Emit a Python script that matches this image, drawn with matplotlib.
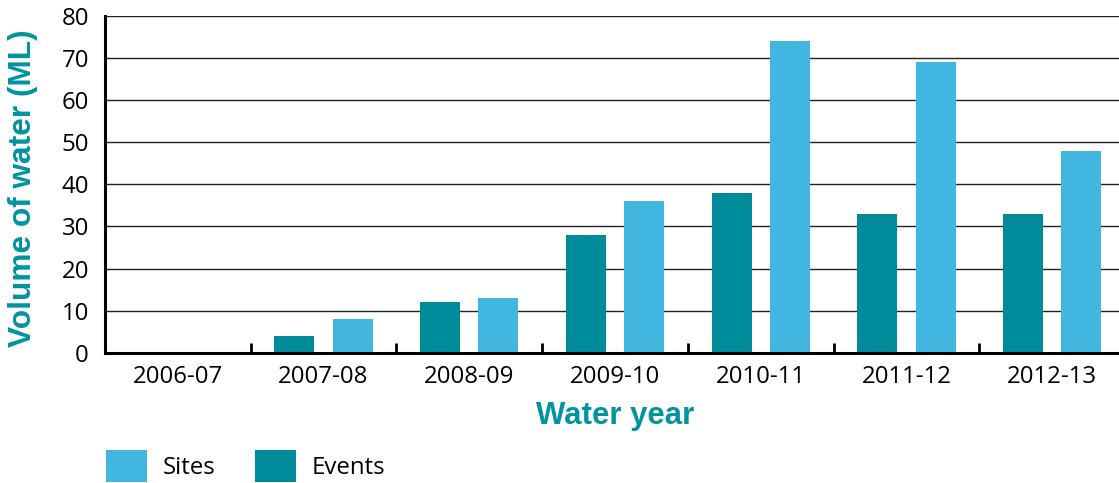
import numpy as np
import matplotlib.pyplot as plt
from matplotlib.patches import Patch

# Water use by year
years = ["2006-07", "2007-08", "2008-09", "2009-10", "2010-11", "2011-12", "2012-13"]
events = [0, 4, 12, 28, 38, 33, 33]
sites = [0, 8, 13, 36, 74, 69, 48]

sites_color = "#41B6E0"
events_color = "#008B9A"
label_color = "#0093A0"

plt.rcParams["font.family"] = ["Open Sans", "DejaVu Sans"]

fig = plt.figure(figsize=(11.19, 4.83), dpi=100)
ax = fig.add_axes([0.0938, 0.2692, 0.9116, 0.6983])

x = np.arange(len(years))
w = 0.274
ax.bar(x - 0.2, events, width=w, color=events_color, zorder=3)
ax.bar(x + 0.2, sites, width=w, color=sites_color, zorder=3)

ax.set_xlim(-0.5, len(years) - 0.5)
ax.set_ylim(0, 80)
ax.set_yticks(np.arange(0, 81, 10))
ax.yaxis.grid(True, color="#222222", linewidth=1.0, zorder=0)
ax.set_axisbelow(True)

# category labels in the middle, tick marks on the boundaries
ax.set_xticks(x)
ax.set_xticklabels(years)
ax.set_xticks(np.arange(0.5, len(years) - 0.5, 1), minor=True)
ax.tick_params(axis="x", which="major", length=0, pad=8.5, labelsize=17.3)
ax.tick_params(axis="x", which="minor", direction="in", length=7, width=2, color="black")
ax.tick_params(axis="y", length=0, pad=11.5, labelsize=17.3)

for side in ["top", "right"]:
    ax.spines[side].set_visible(False)
for side in ["left", "bottom"]:
    ax.spines[side].set_linewidth(2.2)
    ax.spines[side].set_color("black")
    ax.spines[side].set_zorder(4)

bold_family = ["Liberation Sans", "DejaVu Sans"]
ax.set_xlabel("Water year", family=bold_family, fontweight="bold",
              fontsize=22.4, color=label_color)
ax.xaxis.set_label_coords(0.5, -0.142)
ax.set_ylabel("Volume of water (ML)", family=bold_family, fontweight="bold",
              fontsize=22.8, color=label_color)
ax.yaxis.set_label_coords(-0.066, 0.49)

handles = [Patch(facecolor=sites_color, label="Sites"),
           Patch(facecolor=events_color, label="Events")]
fig.legend(handles=handles, loc="upper left", bbox_to_anchor=(106 / 1119, 1 - 450 / 483),
           ncol=2, frameon=False, fontsize=17.3, handlelength=1.7, handleheight=1.7,
           handletextpad=0.65, columnspacing=1.65, borderpad=0, borderaxespad=0)

fig.savefig("out.png", dpi=100)
